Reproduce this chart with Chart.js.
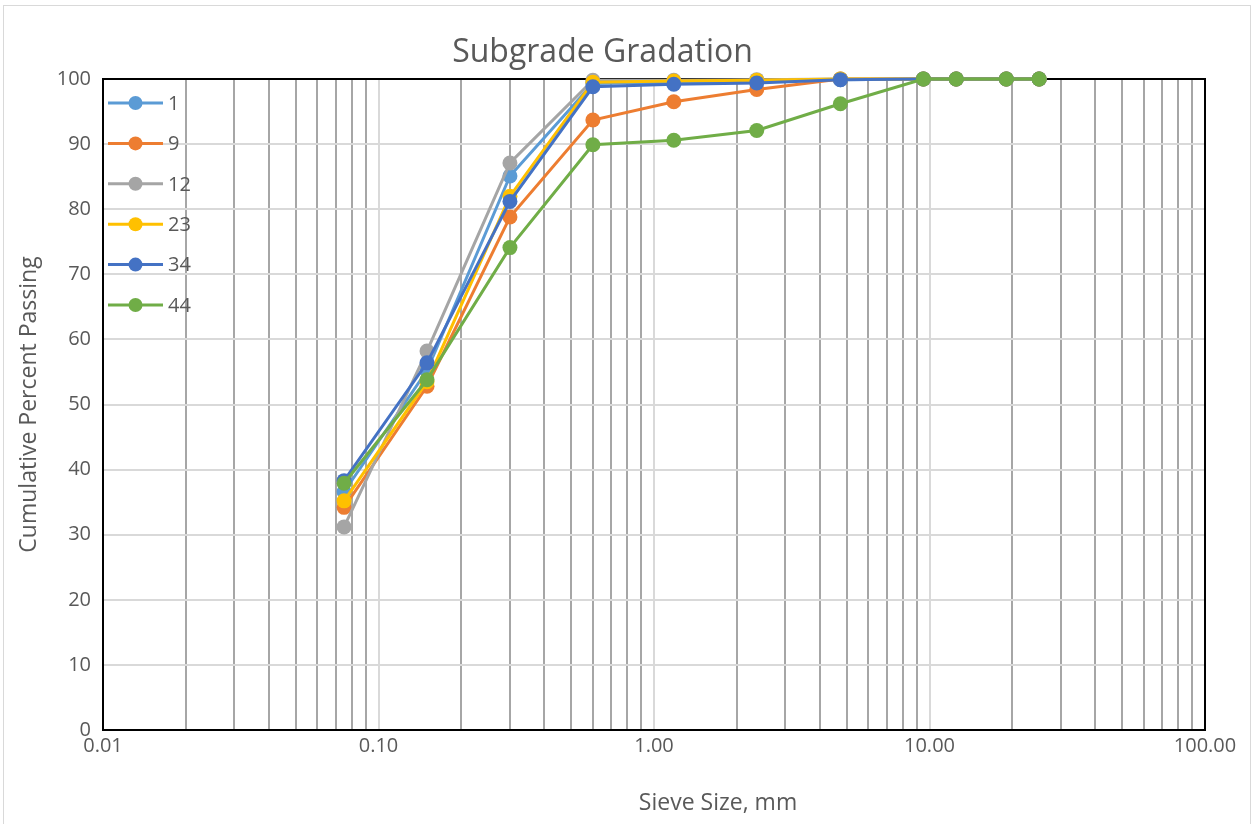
<!DOCTYPE html>
<html lang="en">
<head>
  <meta charset="UTF-8" />
  <title>Subgrade Gradation</title>
  <script src="https://cdn.jsdelivr.net/npm/chart.js"></script>
  <style>
    html, body { margin: 0; padding: 0; background: #fff; }
    .grafico { position: relative; width: 1253px; height: 824px; }
    .moldura { position: absolute; left: 3px; top: 5px; right: 2px; bottom: 0; border: 1px solid #d9d9d9; border-bottom: none; pointer-events: none; }
  </style>
</head>
<body>
  <div class="grafico">
    <canvas id="gradacao" width="1253" height="824"></canvas>
    <div class="moldura"></div>
  </div>

  <script>
    // sieve sizes (mm)
    var peneiras = [0.075, 0.15, 0.3, 0.6, 1.18, 2.36, 4.75, 9.5, 12.5, 19, 25];

    var amostras = ['1', '9', '12', '23', '34', '44'];
    var passa1  = [36.6, 55.2, 85.1, 99.3, 99.5, 99.7, 99.9, 100, 100, 100, 100];
    var passa9  = [34.2, 52.8, 78.8, 93.7, 96.5, 98.4, 100, 100, 100, 100, 100];
    var passa12 = [31.2, 58.2, 87.1, 99.8, 99.8, 99.9, 100, 100, 100, 100, 100];
    var passa23 = [35.2, 53.5, 82.0, 99.5, 99.7, 99.8, 100, 100, 100, 100, 100];
    var passa34 = [38.3, 56.4, 81.2, 98.8, 99.2, 99.4, 99.9, 100, 100, 100, 100];
    var passa44 = [37.9, 53.8, 74.1, 89.9, 90.6, 92.1, 96.2, 100, 100, 100, 100];

    var yTicks = [0, 10, 20, 30, 40, 50, 60, 70, 80, 90, 100];
    var xDecadas = [0.01, 0.1, 1, 10, 100];

    var cores = ['#5B9BD5', '#ED7D31', '#A5A5A5', '#FFC000', '#4472C4', '#70AD47'];
    var series = [passa1, passa9, passa12, passa23, passa34, passa44];
    var fonte = '"Open Sans", sans-serif';
    var cinzaTexto = '#595959';

    var datasets = [];
    for (var i = 0; i < series.length; i++) {
      var pts = [];
      for (var j = 0; j < peneiras.length; j++) {
        pts.push({ x: peneiras[j], y: series[i][j] });
      }
      datasets.push({
        label: amostras[i],
        data: pts,
        showLine: true,
        clip: false,
        borderColor: cores[i],
        backgroundColor: cores[i],
        borderWidth: 3,
        pointRadius: 7.5,
        pointHoverRadius: 7.5,
        pointBorderWidth: 0,
        order: series.length - i
      });
    }

    // legend drawn inside the plot area, Excel style (line + marker)
    var legendaInterna = {
      id: 'legendaInterna',
      afterDatasetsDraw: function (chart) {
        var ctx = chart.ctx;
        var area = chart.chartArea;
        ctx.save();
        ctx.font = '20px ' + fonte;
        ctx.textBaseline = 'middle';
        ctx.textAlign = 'left';
        for (var k = 0; k < chart.data.datasets.length; k++) {
          var ds = chart.data.datasets[k];
          var cy = area.top + 24 + k * 40.4;
          var x0 = area.left + 5;
          ctx.strokeStyle = ds.borderColor;
          ctx.lineWidth = 3;
          ctx.beginPath();
          ctx.moveTo(x0, cy);
          ctx.lineTo(x0 + 55, cy);
          ctx.stroke();
          ctx.fillStyle = ds.backgroundColor;
          ctx.beginPath();
          ctx.arc(x0 + 27.5, cy, 7, 0, Math.PI * 2);
          ctx.fill();
          ctx.fillStyle = cinzaTexto;
          ctx.fillText(ds.label, x0 + 60, cy + 1);
        }
        ctx.restore();
      }
    };

    // black frame around the plot area + x axis title (sits right of centre, as in Excel)
    var moldura = {
      id: 'molduraPlot',
      beforeDatasetsDraw: function (chart) {
        var a = chart.chartArea;
        var ctx = chart.ctx;
        ctx.save();
        ctx.strokeStyle = '#000';
        ctx.lineWidth = 2;
        ctx.strokeRect(a.left, a.top, a.right - a.left, a.bottom - a.top);
        ctx.fillStyle = cinzaTexto;
        ctx.font = '23px ' + fonte;
        ctx.textAlign = 'center';
        ctx.textBaseline = 'middle';
        ctx.fillText('Sieve Size, mm', 718, 803);
        ctx.restore();
      }
    };

    function ehDecada(v) {
      var l = Math.log10(v);
      return Math.abs(l - Math.round(l)) < 1e-9;
    }

    new Chart(document.getElementById('gradacao').getContext('2d'), {
      type: 'scatter',
      data: { datasets: datasets },
      plugins: [moldura, legendaInterna],
      options: {
        responsive: false,
        animation: false,
        layout: { padding: { left: 0, right: 48, top: 0, bottom: 0 } },
        plugins: {
          legend: { display: false },
          tooltip: { enabled: false },
          title: {
            display: true,
            text: 'Subgrade Gradation',
            color: cinzaTexto,
            font: { family: fonte, size: 32, weight: 'normal' },
            padding: { top: 34, bottom: 6.6 }
          }
        },
        scales: {
          x: {
            type: 'logarithmic',
            min: 0.01,
            max: 100,
            afterFit: function (s) { s.height = 94; },
            afterBuildTicks: function (s) {
              var t = [];
              for (var d = 0; d < xDecadas.length; d++) {
                if (d === xDecadas.length - 1) { t.push({ value: xDecadas[d] }); break; }
                for (var m = 1; m <= 9; m++) {
                  t.push({ value: +(xDecadas[d] * m).toPrecision(6) });
                }
              }
              s.ticks = t;
            },
            grid: {
              color: function (c) {
                return (c.tick && ehDecada(c.tick.value)) ? '#d9d9d9' : '#a6a6a6';
              },
              lineWidth: 2,
              drawTicks: false
            },
            border: { display: false },
            ticks: {
              autoSkip: false,
              maxRotation: 0,
              padding: 4,
              color: cinzaTexto,
              font: { family: fonte, size: 20 },
              callback: function (v) {
                return ehDecada(v) ? Number(v).toFixed(2) : '';
              }
            },
            title: { display: false }
          },
          y: {
            min: 0,
            max: 100,
            afterFit: function (s) { s.width = 103; },
            afterBuildTicks: function (s) {
              s.ticks = yTicks.map(function (v) { return { value: v }; });
            },
            grid: { color: '#d9d9d9', lineWidth: 2, drawTicks: false },
            border: { display: false },
            ticks: {
              padding: 12,
              color: cinzaTexto,
              font: { family: fonte, size: 20 }
            },
            title: {
              display: true,
              text: 'Cumulative Percent Passing',
              color: cinzaTexto,
              font: { family: fonte, size: 23 },
              padding: { top: 16, bottom: 0 }
            }
          }
        }
      }
    });
  </script>
</body>
</html>
